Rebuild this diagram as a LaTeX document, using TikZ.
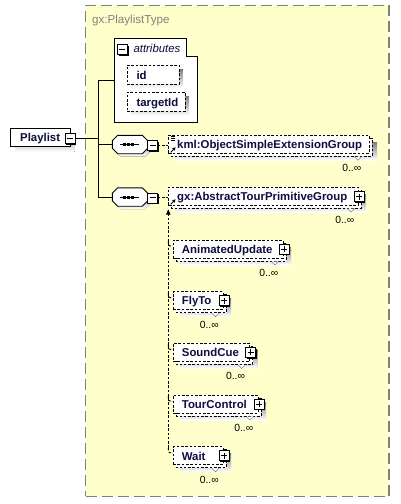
\documentclass[tikz,border=0pt]{standalone}
\usepackage{fontspec}
\setmainfont{Liberation Sans}
\usetikzlibrary{calc,arrows.meta}
\definecolor{bgyellow}{HTML}{FFFFCC}
\definecolor{shade}{HTML}{C0C0C0}
\definecolor{framegray}{HTML}{808080}
\definecolor{ink}{HTML}{0D0D40}
\tikzset{
  dline/.style={draw=black, line width=0.9pt, dash pattern=on 2.6pt off 1.7pt},
  dbox/.style={dline, fill=white, inner sep=0pt, outer sep=0pt, anchor=north west},
  sbox/.style={draw=black, line width=0.9pt, fill=white, inner sep=0pt, outer sep=0pt, anchor=north west},
  btnbox/.style={draw=black, line width=0.8pt, fill=white, minimum size=10pt, inner sep=0pt, outer sep=0pt, anchor=north west},
  lbl/.style={font=\fontsize{11.4}{13}\selectfont\bfseries, text=ink, inner sep=0pt, anchor=base west},
  mult/.style={font=\fontsize{10.4}{12}\selectfont, text=black, inner sep=0pt, anchor=base east},
  conn/.style={draw=black, line width=0.9pt},
  dconn/.style={dline},
}
\newcommand\minusbtn[3]{%
  \fill[black] (#2+1.3,#3+1.3) rectangle (#2+11.3,#3+11.3);
  \node[btnbox] (#1) at (#2,#3) {};
  \draw[line width=0.9pt] ($(#1.center)+(-3,0)$) -- ($(#1.center)+(3,0)$);
}
\newcommand\plusbtn[3]{%
  \fill[black] (#2+1.3,#3+1.3) rectangle (#2+11.3,#3+11.3);
  \node[btnbox] (#1) at (#2,#3) {};
  \draw[line width=0.9pt] ($(#1.center)+(-3,0)$) -- ($(#1.center)+(3,0)$);
  \draw[line width=0.9pt] ($(#1.center)+(0,-3)$) -- ($(#1.center)+(0,3)$);
}
% #1 name, #2 left, #3 top, #4 right, #5 label, #6 mult offset, #7 label x offset
\newcommand\repel[7]{%
  \fill[shade] (#2+7,#3+7) rectangle (#4+8,#3+25);
  \draw[dline, fill=white] (#2+3,#3+3) rectangle (#4+3,#3+21);
  \node[dbox, minimum width={(#4-#2)*1pt}, minimum height=18pt] (#1) at (#2,#3) {};
  \node[lbl] (#1-t) at (#2+#7,#3+13.2) {#5};
  \node[mult] (#1-m) at (#4-#6,#3+36.4) {0..∞};
  \filldraw[fill=white, draw=framegray, line width=0.5pt] (#4-#6-7,#3+21.5) -- (#4-#6-3.5,#3+25) -- (#4-#6,#3+21.5);
}
% octagon: #1 name, #2 cx, #3 cy
\newcommand\seqn[3]{%
  \fill[shade] (#2-12.2+3,#3-9.2+3) -- (#2+12.2+3,#3-9.2+3) -- (#2+17.7+3,#3-3.7+3) -- (#2+17.7+3,#3+3.7+3) -- (#2+12.2+3,#3+9.2+3) -- (#2-12.2+3,#3+9.2+3) -- (#2-17.7+3,#3+3.7+3) -- (#2-17.7+3,#3-3.7+3) -- cycle;
  \node[minimum width=35.4pt, minimum height=18.4pt, inner sep=0pt, outer sep=0pt] (#1) at (#2,#3) {};
  \filldraw[fill=white, draw=black, line width=0.9pt] (#2-12.2,#3-9.2) -- (#2+12.2,#3-9.2) -- (#2+17.7,#3-3.7) -- (#2+17.7,#3+3.7) -- (#2+12.2,#3+9.2) -- (#2-12.2,#3+9.2) -- (#2-17.7,#3+3.7) -- (#2-17.7,#3-3.7) -- cycle;
  \draw[line width=0.9pt] (#2-10,#3) -- (#2+8.5,#3);
  \fill[black] (#2-6.6,#3-1.5) rectangle (#2-4,#3+1.5);
  \fill[black] (#2-2.6,#3-1.5) rectangle (#2,#3+1.5);
  \fill[black] (#2+1.4,#3-1.5) rectangle (#2+4,#3+1.5);
}
\begin{document}
\begin{tikzpicture}[x=1pt,y=-1pt]
\useasboundingbox (0,0) rectangle (400,504);
\fill[white] (0,0) rectangle (400,504);
% type frame
\node[draw=framegray, line width=1.3pt, dash pattern=on 11pt off 5pt, fill=bgyellow, minimum width=303.5pt, minimum height=491pt, inner sep=0pt, outer sep=0pt, anchor=north west] (ptype) at (85.5,5.3) {};
\node[font=\fontsize{11.6}{13}\selectfont, text=framegray, inner sep=0pt, anchor=base west] (ptype-t) at (92,23.3) {gx:PlaylistType};
% attributes
\node[inner sep=0pt, outer sep=0pt, minimum width=83pt, minimum height=83.5pt, anchor=north west] (attr) at (114,38.5) {};
\filldraw[fill=white, draw=black, line width=0.9pt] (attr.north west) -- ++(72,0) -- ++(0,17.5) -- ++(11,0) -- (attr.south east) -- (attr.south west) -- cycle;
\minusbtn{attrbtn}{117.3}{44.3}
\node[font=\fontsize{11.4}{13}\selectfont\itshape, text=ink, inner sep=0pt, anchor=base west] (attr-t) at (133.3,52.5) {attributes};
% id
\fill[shade] (131.5,69) rectangle (182.5,88);
\node[dbox, minimum width=52pt, minimum height=19pt] (id) at (127,65) {};
\node[lbl] (id-t) at (136.3,79) {id};
% targetId
\fill[shade] (131.5,96) rectangle (189,115.5);
\node[dbox, minimum width=58pt, minimum height=19pt] (tid) at (127,92) {};
\node[lbl] (tid-t) at (136.3,106) {targetId};
% Playlist
\fill[shade] (15,133) rectangle (74.5,151.5);
\node[sbox, minimum width=59.3pt, minimum height=18.4pt] (pl) at (10.7,128.3) {};
\node[lbl] (pl-t) at (20,141.3) {Playlist};
\minusbtn{plbtn}{65}{133.3}
% sequences
\seqn{seq1}{130}{144.5}
\minusbtn{s1btn}{147.7}{140.4}
\seqn{seq2}{130}{197}
\minusbtn{s2btn}{147.7}{192.9}
% connectors from Playlist
\coordinate (jx) at (98.3,0);
\draw[conn] (plbtn.east) -- (plbtn.east -| jx);
\draw[conn] (attr.west -| jx) -- (seq2.west -| jx);
\draw[conn] (attr.west -| jx) -- (attr.west);
\draw[conn] (seq1.west -| jx) -- (seq1.west);
\draw[conn] (seq2.west -| jx) -- (seq2.west);
% kml element
\repel{kml}{168.3}{135.3}{369}{kml:ObjectSimpleExtensionGroup}{7.5}{8.7}
\draw[line width=0.7pt] (170.7,136.8) -- (175.3,136.8) (170.7,138.8) -- (175.3,138.8) (170.7,140.8) -- (175.3,140.8);
\draw[line width=0.9pt, -{Triangle[width=3.2pt,length=3.2pt]}] (170.6,152.3) -- (175.6,147.3);
\draw[dconn] (s1btn.east) -- (s1btn.east -| kml.west);
% gx group
\repel{gx}{168.3}{187}{358}{gx:AbstractTourPrimitiveGroup}{3.5}{8.7}
\plusbtn{gxbtn}{354}{191.5}
\draw[line width=0.9pt, -{Triangle[width=3.2pt,length=3.2pt]}] (170.6,204.3) -- (175.6,199.3);
\draw[dconn] (s2btn.east) -- (s2btn.east -| gx.west);
% substitution members
\repel{au}{173}{240}{283}{AnimatedUpdate}{4.5}{8.7}
\plusbtn{aubtn}{279}{244}
\repel{fly}{173}{291.7}{223}{FlyTo}{4}{8.7}
\plusbtn{flybtn}{219}{295.7}
\repel{snd}{173}{343.4}{249.7}{SoundCue}{4.5}{8.7}
\plusbtn{sndbtn}{245.7}{347.4}
\repel{tc}{173}{395.1}{258}{TourControl}{4.5}{8.7}
\plusbtn{tcbtn}{254}{399.1}
\repel{wt}{173}{446.8}{223}{Wait}{4}{8.7}
\plusbtn{wtbtn}{219}{450.8}
% substitution connector
\coordinate (vtop) at (168.3,209.5);
\coordinate (vbot) at (168.3,448);
\draw[dconn, -{Triangle[width=4.5pt,length=5pt]}] (vbot) -- (vtop);
\foreach \n in {au,fly,snd,tc,wt}{
  \draw[dconn] (\n.north west -| vtop) ++(0,1) .. controls ($(\n.north west -| vtop)+(0,6)$) .. ($(\n.north west)+(0,6)$);
}
\end{tikzpicture}
\end{document}
